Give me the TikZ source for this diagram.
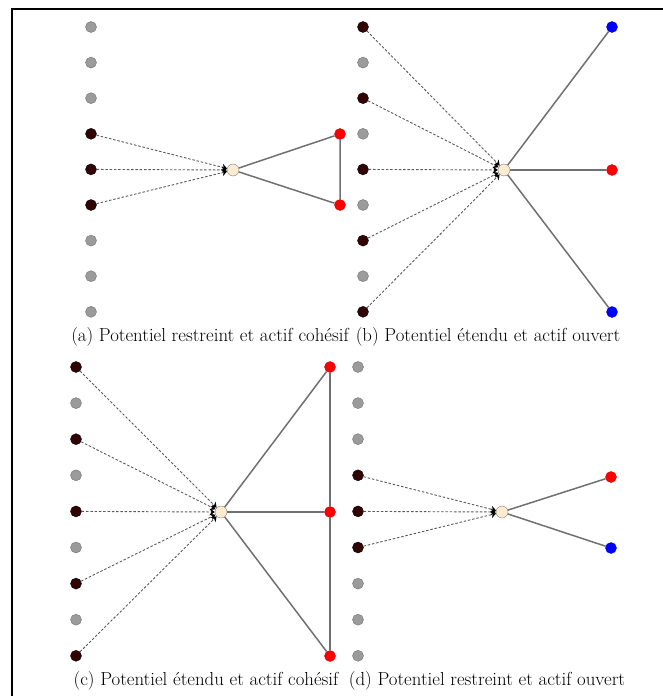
\documentclass[tikz,border=0pt]{standalone}
\usetikzlibrary{arrows.meta}
\definecolor{darknode}{HTML}{330404}
\definecolor{graynode}{HTML}{9B9B9B}
\definecolor{centernode}{HTML}{FCEBCF}
\definecolor{edgegray}{HTML}{707070}
\definecolor{dashgray}{HTML}{5A5A5A}
\begin{document}
\begin{tikzpicture}[x=1bp,y=-1bp,
  base/.style={circle,inner sep=0pt,minimum size=11bp,line width=0.4bp},
  gnode/.style={base,fill=graynode,draw=gray!90!black},
  dnode/.style={base,fill=darknode,draw=black},
  rnode/.style={base,fill=red,draw=red!85!black},
  bnode/.style={base,fill=blue,draw=blue!85!black},
  cnode/.style={base,minimum size=12bp,fill=centernode,draw=gray},
  pot/.style={draw=dashgray,line width=0.9bp,dash pattern=on 2.5bp off 1.8bp,
    -{Stealth[black,length=5bp,width=7bp]}},
  act/.style={draw=edgegray,line width=1.5bp},
  captext/.style={font=\fontsize{18.9}{22}\selectfont,inner sep=0pt,anchor=base,text=black}]
\path[use as bounding box] (0,0) rectangle (663,696);
\begin{scope}
\clip (0,0) rectangle (663,696);
\draw[line width=2bp] (12,9.5) rectangle (680,720);

% ---------- (a)
\foreach \i/\s in {1/gnode,2/gnode,3/gnode,4/dnode,5/dnode,6/dnode,7/gnode,8/gnode,9/gnode}
  \node[\s] (a\i) at (91,{27+(\i-1)*35.6}) {};
\node[cnode] (ac) at (233,170) {};
\node[rnode] (ar1) at (340,134) {};
\node[rnode] (ar2) at (340,205) {};
\foreach \i in {4,5,6} \draw[pot] (a\i) -- (ac);
\draw[act] (ac) -- (ar1) -- (ar2) -- (ac);
\node[captext] (capa) at (210,341) {(a) Potentiel restreint et actif cohésif};

% ---------- (b)
\foreach \i/\s in {1/dnode,2/gnode,3/dnode,4/gnode,5/dnode,6/gnode,7/dnode,8/gnode,9/dnode}
  \node[\s] (b\i) at (363,{27+(\i-1)*35.6}) {};
\node[cnode] (bc) at (504,170) {};
\node[bnode] (bb1) at (612,27) {};
\node[rnode] (br) at (612,170) {};
\node[bnode] (bb2) at (612,312) {};
\foreach \i in {1,3,5,7,9} \draw[pot] (b\i) -- (bc);
\draw[act] (bc) -- (bb1);
\draw[act] (bc) -- (br);
\draw[act] (bc) -- (bb2);
\node[captext] (capb) at (488,341) {(b) Potentiel étendu et actif ouvert};

% ---------- (c)
\foreach \i/\s in {1/dnode,2/gnode,3/dnode,4/gnode,5/dnode,6/gnode,7/dnode,8/gnode,9/dnode}
  \node[\s] (c\i) at (76,{367+(\i-1)*36.1}) {};
\node[cnode] (cc) at (221,512) {};
\node[rnode] (cr1) at (330,367) {};
\node[rnode] (cr2) at (330,512) {};
\node[rnode] (cr3) at (330,656) {};
\foreach \i in {1,3,5,7,9} \draw[pot] (c\i) -- (cc);
\draw[act] (cc) -- (cr1);
\draw[act] (cc) -- (cr2);
\draw[act] (cc) -- (cr3);
\draw[act] (cr1) -- (cr2) -- (cr3);
\node[captext] (capc) at (206,685) {(c) Potentiel étendu et actif cohésif};

% ---------- (d)
\foreach \i/\s in {1/gnode,2/gnode,3/gnode,4/dnode,5/dnode,6/dnode,7/gnode,8/gnode,9/gnode}
  \node[\s] (d\i) at (358,{367+(\i-1)*36.1}) {};
\node[cnode] (dc) at (502,512) {};
\node[rnode] (dr) at (611,477) {};
\node[bnode] (db) at (611,548) {};
\foreach \i in {4,5,6} \draw[pot] (d\i) -- (dc);
\draw[act] (dc) -- (dr);
\draw[act] (dc) -- (db);
\node[captext] (capd) at (487,685) {(d) Potentiel restreint et actif ouvert};
\end{scope}
\end{tikzpicture}
\end{document}
